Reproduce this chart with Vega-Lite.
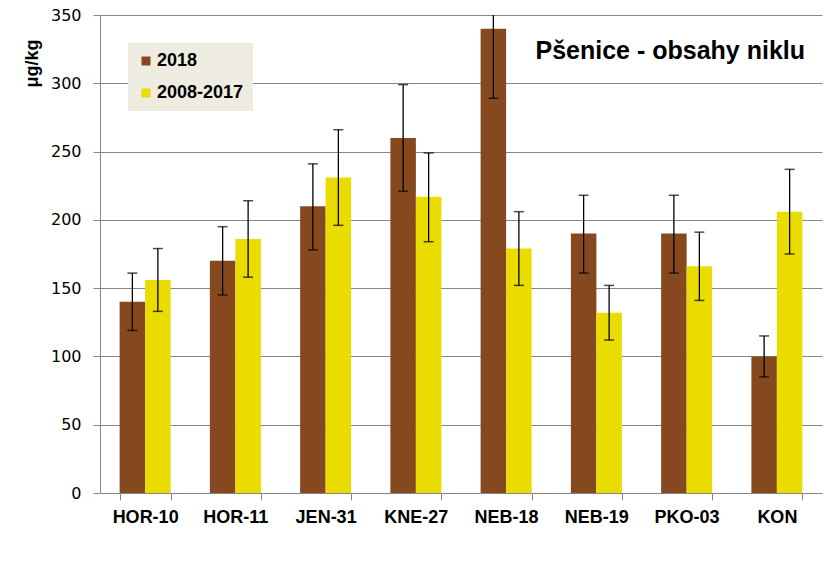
{
  "$schema": "https://vega.github.io/schema/vega-lite/v6.json",
  "width": 722,
  "height": 478,
  "autosize": {"type": "none"},
  "padding": {"left": 100, "top": 15, "right": 17, "bottom": 69},
  "background": "white",
  "title": {
    "text": "Pšenice - obsahy niklu",
    "anchor": "end",
    "frame": "group",
    "orient": "top",
    "font": "Liberation Sans",
    "fontSize": 25,
    "fontWeight": "bold",
    "color": "#000000",
    "offset": -57,
    "dx": -17
  },
  "data": {
    "values": [
      {"site": "HOR-10", "series": "2018", "value": 140, "lo": 119, "hi": 161},
      {"site": "HOR-10", "series": "2008-2017", "value": 156, "lo": 133, "hi": 179},
      {"site": "HOR-11", "series": "2018", "value": 170, "lo": 145, "hi": 195},
      {"site": "HOR-11", "series": "2008-2017", "value": 186, "lo": 158, "hi": 214},
      {"site": "JEN-31", "series": "2018", "value": 210, "lo": 178, "hi": 241},
      {"site": "JEN-31", "series": "2008-2017", "value": 231, "lo": 196, "hi": 266},
      {"site": "KNE-27", "series": "2018", "value": 260, "lo": 221, "hi": 299},
      {"site": "KNE-27", "series": "2008-2017", "value": 217, "lo": 184, "hi": 249},
      {"site": "NEB-18", "series": "2018", "value": 340, "lo": 289, "hi": 391},
      {"site": "NEB-18", "series": "2008-2017", "value": 179, "lo": 152, "hi": 206},
      {"site": "NEB-19", "series": "2018", "value": 190, "lo": 161, "hi": 218},
      {"site": "NEB-19", "series": "2008-2017", "value": 132, "lo": 112, "hi": 152},
      {"site": "PKO-03", "series": "2018", "value": 190, "lo": 161, "hi": 218},
      {"site": "PKO-03", "series": "2008-2017", "value": 166, "lo": 141, "hi": 191},
      {"site": "KON", "series": "2018", "value": 100, "lo": 85, "hi": 115},
      {"site": "KON", "series": "2008-2017", "value": 206, "lo": 175, "hi": 237}
    ]
  },
  "encoding": {
    "x": {
      "field": "site",
      "type": "nominal",
      "sort": null,
      "scale": {"paddingInner": 0.435, "paddingOuter": 0.2175},
      "axis": {
        "title": null,
        "labelAngle": 0,
        "labelFont": "Liberation Sans",
        "labelFontSize": 18,
        "labelFontWeight": "bold",
        "labelColor": "#000000",
        "labelPadding": 8,
        "tickBand": "extent",
        "tickSize": 7,
        "tickColor": "#868686",
        "domainColor": "#868686",
        "grid": false
      }
    },
    "xOffset": {"field": "series", "type": "nominal", "sort": ["2018", "2008-2017"], "scale": {"paddingInner": 0}},
    "color": {
      "field": "series",
      "type": "nominal",
      "sort": ["2018", "2008-2017"],
      "scale": {"domain": ["2018", "2008-2017"], "range": ["#86491F", "#EBDC00"]},
      "legend": {
        "title": null,
        "orient": "none",
        "legendX": 28,
        "legendY": 28,
        "fillColor": "#EEECE1",
        "padding": 9,
        "symbolType": "square",
        "symbolSize": 81,
        "symbolStrokeWidth": 0,
        "labelFont": "Liberation Sans",
        "labelFontSize": 18,
        "labelFontWeight": "bold",
        "labelColor": "#000000",
        "labelOffset": 2,
        "rowPadding": 14
      }
    }
  },
  "layer": [
    {
      "mark": {"type": "bar"},
      "encoding": {
        "y": {
          "field": "value",
          "type": "quantitative",
          "scale": {"domain": [0, 350], "nice": false},
          "axis": {
            "title": "μg/kg",
            "titleFont": "Liberation Sans",
            "titleFontSize": 18,
            "titleFontWeight": "bold",
            "titleColor": "#000000",
            "titleAngle": -90,
            "titleX": -68,
            "titleY": 48,
            "titleAlign": "center",
            "titleBaseline": "middle",
            "values": [0, 50, 100, 150, 200, 250, 300, 350],
            "labelFont": "DejaVu Sans",
            "labelFontSize": 16,
            "labelColor": "#000000",
            "labelPadding": 12,
            "tickSize": 7,
            "tickColor": "#868686",
            "domainColor": "#868686",
            "gridColor": "#868686",
            "gridWidth": 1
          }
        }
      }
    },
    {
      "mark": {"type": "rule", "color": "#000000", "strokeWidth": 1.3, "clip": true},
      "encoding": {
        "y": {"field": "lo", "type": "quantitative"},
        "y2": {"field": "hi"},
        "color": {"value": "#000000"}
      }
    },
    {
      "mark": {"type": "tick", "color": "#000000", "thickness": 1.5, "size": 10, "clip": true},
      "encoding": {
        "y": {"field": "lo", "type": "quantitative"},
        "color": {"value": "#000000"}
      }
    },
    {
      "mark": {"type": "tick", "color": "#000000", "thickness": 1.5, "size": 10, "clip": true},
      "encoding": {
        "y": {"field": "hi", "type": "quantitative"},
        "color": {"value": "#000000"}
      }
    }
  ],
  "config": {
    "view": {"stroke": null},
    "axis": {"domainWidth": 1, "tickWidth": 1}
  }
}
